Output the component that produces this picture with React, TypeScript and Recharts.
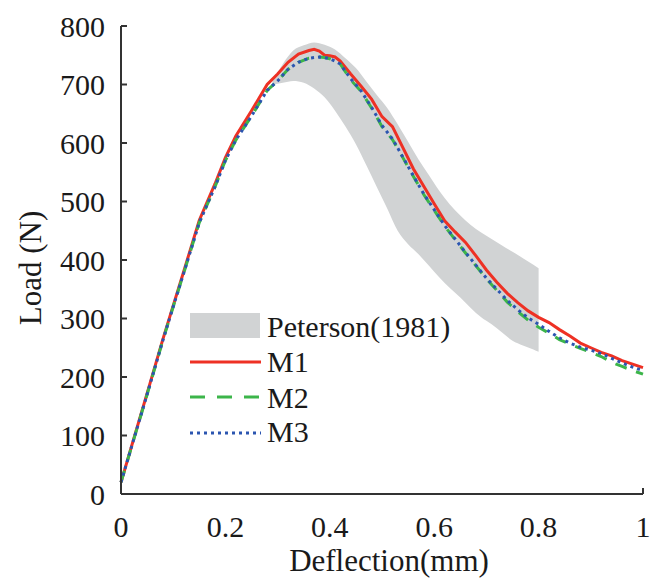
import { ComposedChart, Area, Line, XAxis, YAxis, Legend } from 'recharts';

// deflection (mm) shared by the three model curves
const deflection = [
  0, 0.02, 0.05, 0.08, 0.1, 0.12, 0.15, 0.18, 0.2, 0.22, 0.25, 0.28, 0.3, 0.32, 0.34, 0.36, 0.37,
  0.38, 0.39, 0.4, 0.41, 0.42, 0.44, 0.46, 0.48, 0.5, 0.52, 0.54, 0.56, 0.58, 0.6, 0.62, 0.64,
  0.66, 0.68, 0.7, 0.72, 0.74, 0.76, 0.78, 0.8, 0.82, 0.84, 0.86, 0.88, 0.9, 0.92, 0.94, 0.96,
  0.98, 1,
];
const m1Load = [
  20, 81, 172, 264, 322, 380, 468, 530, 575, 612, 655, 700, 718, 738, 752, 758, 760,
  757, 750, 749, 747, 740, 718, 697, 675, 645, 628, 592, 556, 526, 496, 467, 448,
  430, 407, 383, 362, 343, 327, 313, 302, 293, 281, 270, 258, 250, 242, 236, 228,
  222, 216,
];
const m2Load = [
  20, 80, 170, 262, 320, 377, 464, 525, 570, 605, 646, 690, 706, 726, 738, 745, 746,
  747, 746, 744, 740, 735, 708, 688, 660, 628, 606, 575, 543, 512, 485, 458, 435,
  412, 390, 368, 348, 328, 312, 297, 285, 275, 264, 256, 249, 242, 235, 225, 218,
  211, 205,
];
const m3Load = [
  20, 80, 170, 262, 320, 377, 464, 525, 570, 605, 646, 690, 706, 726, 738, 745, 746,
  747, 746, 744, 740, 735, 710, 689, 661, 630, 607, 576, 544, 513, 486, 459, 436,
  413, 391, 369, 350, 331, 315, 301, 290, 278, 267, 258, 251, 246, 240, 232, 224,
  217, 211,
];

// Peterson (1981) experimental envelope
const bandDeflection = [
  0.29, 0.31, 0.33, 0.35, 0.37, 0.39, 0.41, 0.43, 0.45, 0.47, 0.49, 0.51, 0.53, 0.55,
  0.57, 0.59, 0.61, 0.63, 0.65, 0.67, 0.69, 0.71, 0.73, 0.75, 0.77, 0.79, 0.8,
];
const bandLower = [
  700, 703, 706, 703, 693, 678, 655, 628, 598, 562, 525, 488, 450, 427,
  410, 390, 370, 352, 336, 318, 302, 290, 276, 262, 254, 247, 243,
];
const bandUpper = [
  705, 735, 758, 767, 772, 768, 760, 745, 728, 705, 682, 660, 632, 602,
  572, 545, 518, 495, 476, 460, 447, 436, 425, 414, 403, 392, 386,
];

const xTicks = [0, 0.2, 0.4, 0.6, 0.8, 1];
const yTicks = [0, 100, 200, 300, 400, 500, 600, 700, 800];

const FONT = '"Liberation Serif", "Times New Roman", serif';
const AXIS = '#333';
const TEXT = '#1a1a1a';

const m1Data = deflection.map((x, i) => ({ x, load: m1Load[i] }));
const m2Data = deflection.map((x, i) => ({ x, load: m2Load[i] }));
const m3Data = deflection.map((x, i) => ({ x, load: m3Load[i] }));
const bandData = bandDeflection.map((x, i) => ({ x, range: [bandLower[i], bandUpper[i]] }));

function YTick({ x, y, payload }: any) {
  return (
    <g>
      <line x1={x + 16} x2={x + 22} y1={y} y2={y} stroke={AXIS} strokeWidth={2} />
      <text x={x} y={y} textAnchor="end" dominantBaseline="central" fontFamily={FONT} fontSize={30} fill={TEXT}>
        {payload.value}
      </text>
    </g>
  );
}

function XTick({ x, y, payload }: any) {
  return (
    <g>
      {payload.value === 1 && <line x1={x} x2={x} y1={y} y2={y - 6} stroke={AXIS} strokeWidth={2} />}
      <text x={x} y={y + 43} textAnchor="middle" fontFamily={FONT} fontSize={30} fill={TEXT}>
        {payload.value}
      </text>
    </g>
  );
}

function XLabel({ viewBox }: any) {
  const { x, y, width } = viewBox;
  return (
    <text x={x + width / 2 + 7} y={y + 77} textAnchor="middle" fontFamily={FONT} fontSize={31} fill={TEXT}>
      Deflection(mm)
    </text>
  );
}

function YLabel({ viewBox }: any) {
  const { y, height } = viewBox;
  const cy = y + height / 2 + 8;
  return (
    <text x={41} y={cy} transform={`rotate(-90, 41, ${cy})`} textAnchor="middle" fontFamily={FONT} fontSize={31} fill={TEXT}>
      Load (N)
    </text>
  );
}

function LegendBox() {
  const t = { fontFamily: FONT, fontSize: 30, fill: TEXT };
  return (
    <svg width={280} height={150} style={{ display: 'block' }}>
      <rect x={0} y={8} width={70} height={25} fill="#d1d3d4" />
      <text x={77} y={32} {...t}>Peterson(1981)</text>
      <line x1={0} x2={71} y1={57} y2={57} stroke="#ee3124" strokeWidth={3} />
      <text x={77} y={67} {...t}>M1</text>
      <line x1={0} x2={71} y1={92} y2={92} stroke="#3cb54a" strokeWidth={3} strokeDasharray="15 12" />
      <text x={77} y={103} {...t}>M2</text>
      <line x1={0} x2={71} y1={128} y2={128} stroke="#2b55b0" strokeWidth={3} strokeDasharray="3 4" />
      <text x={77} y={137} {...t}>M3</text>
    </svg>
  );
}

export default function App() {
  return (
    <div style={{ position: 'absolute', left: 0, top: 0, background: '#fff' }}>
      <ComposedChart width={660} height={579} margin={{ top: 26, right: 17, bottom: 0, left: 0 }}>
        <XAxis
          type="number"
          dataKey="x"
          domain={[0, 1]}
          ticks={xTicks}
          height={85}
          tickSize={0}
          tickMargin={0}
          tick={<XTick />}
          axisLine={{ stroke: AXIS, strokeWidth: 2 }}
          label={<XLabel />}
          allowDuplicatedCategory={false}
        />
        <YAxis
          type="number"
          domain={[0, 800]}
          ticks={yTicks}
          width={121}
          tickSize={0}
          tickMargin={16}
          tick={<YTick />}
          axisLine={{ stroke: AXIS, strokeWidth: 2 }}
          label={<YLabel />}
        />
        <Legend
          layout="vertical"
          align="center"
          verticalAlign="middle"
          wrapperStyle={{ left: 190, top: 305, width: 280, height: 150 }}
          content={<LegendBox />}
        />
        <Area
          data={bandData}
          dataKey="range"
          type="monotone"
          stroke="none"
          fill="#d1d3d4"
          fillOpacity={1}
          name="Peterson(1981)"
          isAnimationActive={false}
        />
        <Line data={m1Data} dataKey="load" type="linear" stroke="#ee3124" strokeWidth={3} dot={false} name="M1" isAnimationActive={false} />
        <Line data={m2Data} dataKey="load" type="linear" stroke="#3cb54a" strokeWidth={3} strokeDasharray="12 10" dot={false} name="M2" isAnimationActive={false} />
        <Line data={m3Data} dataKey="load" type="linear" stroke="#2b55b0" strokeWidth={3} strokeDasharray="3 4" dot={false} name="M3" isAnimationActive={false} />
      </ComposedChart>
    </div>
  );
}
